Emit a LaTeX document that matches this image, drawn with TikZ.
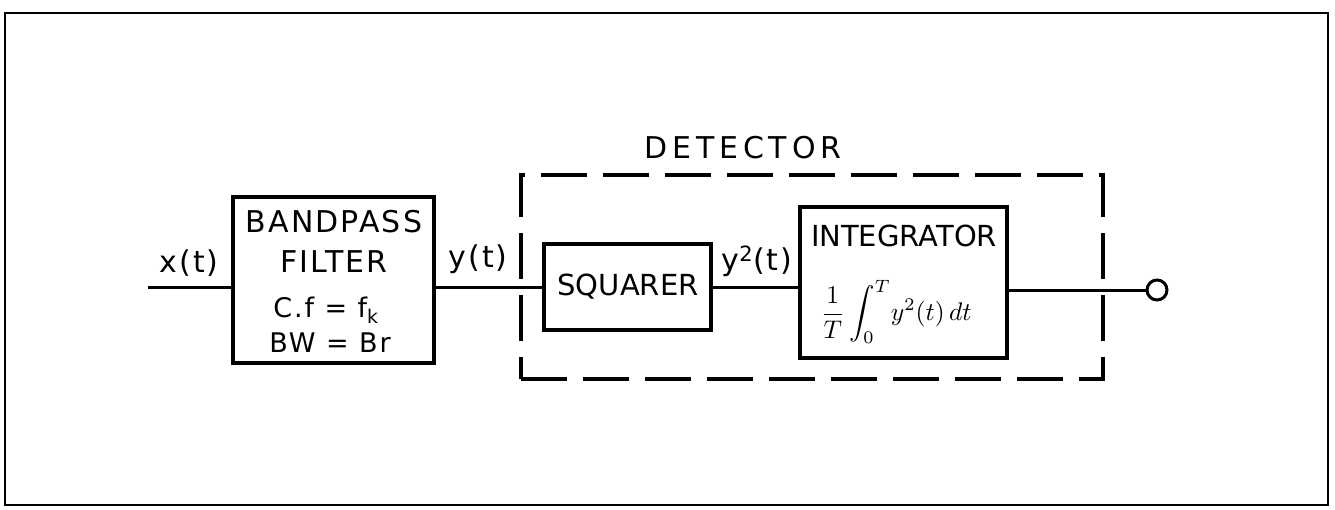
\documentclass[tikz,border=0pt]{standalone}
\usepackage{fontspec}
\newfontfamily\handfam[LetterSpace=7]{DejaVu Sans}
\newfontfamily\plainfam{DejaVu Sans}
\newfontfamily\widefam[LetterSpace=16]{DejaVu Sans}
\newcommand\hw{\handfam\fontsize{30}{34}\selectfont}
\newcommand\hwp{\plainfam\fontsize{29}{34}\selectfont}
\newcommand\hws{\handfam\fontsize{27}{30}\selectfont}
\newcommand\hwd{\widefam\fontsize{30}{34}\selectfont}
\begin{document}
\begin{tikzpicture}[x=1pt,y=-1pt,line width=3.4pt,
  blk/.style={draw,rectangle,inner sep=0pt},
  lbl/.style={font=\hw,inner sep=0pt},
  plbl/.style={font=\hwp,inner sep=0pt},
  slbl/.style={font=\hws,inner sep=0pt},
  detbox/.style={draw,rectangle,inner sep=0pt,dash pattern=on 46pt off 16pt},
  wire/.style={line width=3pt}]
\useasboundingbox (0,0) rectangle (1335,509);
\draw[line width=2.8pt] (5,13) rectangle (1328,505);
% blocks
\node[blk,minimum width=201pt,minimum height=166pt] (filt) at (333.5,280) {};
\node[detbox,minimum width=582pt,minimum height=204pt] (det) at (812,277) {};
\node[blk,minimum width=167pt,minimum height=86pt] (sq) at (627.5,287) {};
\node[blk,minimum width=207pt,minimum height=151pt] (integ) at (903.5,282.5) {};
\node[draw,circle,inner sep=0pt,minimum size=20pt,line width=3pt] (out) at (1157,290) {};
\coordinate (in) at (148,287);
% texts
\node[lbl] (tb) at (334,222) {BANDPASS};
\node[lbl] (tf) at (334,262) {FILTER};
\node[slbl] (tc) at (326,310) {C.f = f\textsubscript{k}};
\node[slbl] (tw) at (330,343) {BW = Br};
\node[lbl] (tx) at (189,263) {x(t)};
\node[lbl] (ty) at (478,259) {y(t)};
\node[lbl] (ty2) at (757,261) {y\textsuperscript{2}(t)};
\node[font=\hwd,inner sep=0pt] (tdet) at (743,148) {DETECTOR};
\node[plbl] (tsq) at (628,287) {SQUARER};
\node[plbl] (tint) at (904,236) {INTEGRATOR};
\node[inner sep=0pt] (tform) at (896,312) {\scalebox{2.55}{$\displaystyle\frac{1}{T}\int_0^T\! y^2(t)\,dt$}};
% wires
\draw[wire] (in) -- (in -| filt.west);
\draw[wire] (filt.east |- sq.west) -- (sq.west);
\draw[wire] (sq.east) -- (integ.west |- sq.east);
\draw[wire] (integ.east |- out.west) -- (out.west);
\end{tikzpicture}
\end{document}
